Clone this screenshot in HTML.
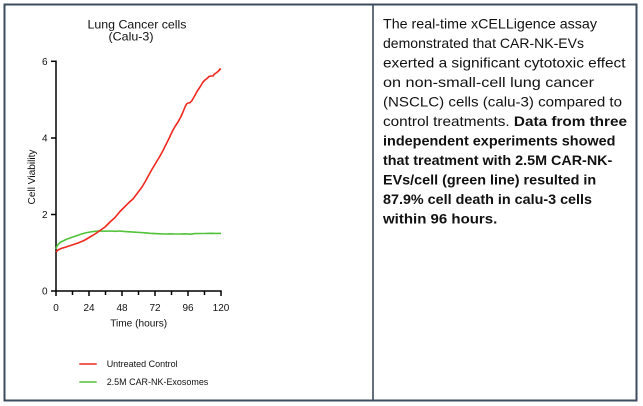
<!DOCTYPE html>
<html><head><meta charset="utf-8"><style>
html,body{margin:0;padding:0;background:#fff;width:643px;height:406px;overflow:hidden}
svg{display:block}
</style></head><body>
<svg width="643" height="406" viewBox="0 0 643 406" xmlns="http://www.w3.org/2000/svg" font-family="'Liberation Sans', Arial, sans-serif">
<rect x="0" y="0" width="643" height="406" fill="#fff"/>
<!-- outer border -->
<rect x="4.5" y="4.5" width="632" height="396" fill="none" stroke="#3c4b5d" stroke-width="2"/>
<line x1="373" y1="4" x2="373" y2="401" stroke="#3c4b5d" stroke-width="1.6"/>

<!-- chart title -->
<text x="137" y="28.3" font-size="12" text-anchor="middle" fill="#111" textLength="99" lengthAdjust="spacingAndGlyphs">Lung Cancer cells</text>
<text x="131" y="40.7" font-size="12" text-anchor="middle" fill="#111" textLength="45" lengthAdjust="spacingAndGlyphs">(Calu-3)</text>

<!-- axes -->
<g stroke="#000" stroke-width="1.5" fill="none">
<line x1="56" y1="60.5" x2="56" y2="291.7"/>
<line x1="55.3" y1="291" x2="221.7" y2="291"/>
<!-- y ticks -->
<line x1="51" y1="291" x2="56" y2="291"/>
<line x1="51" y1="214.5" x2="56" y2="214.5"/>
<line x1="51" y1="138" x2="56" y2="138"/>
<line x1="51" y1="61.3" x2="56" y2="61.3"/>
<!-- x ticks -->
<line x1="56" y1="291" x2="56" y2="296"/>
<line x1="72.5" y1="291" x2="72.5" y2="295"/>
<line x1="89" y1="291" x2="89" y2="296"/>
<line x1="105.5" y1="291" x2="105.5" y2="295"/>
<line x1="122" y1="291" x2="122" y2="296"/>
<line x1="138.5" y1="291" x2="138.5" y2="295"/>
<line x1="155" y1="291" x2="155" y2="296"/>
<line x1="171.5" y1="291" x2="171.5" y2="295"/>
<line x1="188" y1="291" x2="188" y2="296"/>
<line x1="204.5" y1="291" x2="204.5" y2="295"/>
<line x1="221" y1="291" x2="221" y2="296"/>
</g>

<!-- y tick labels -->
<g font-size="10" fill="#111" text-anchor="end">
<text x="47.5" y="294.6">0</text>
<text x="47.5" y="218">2</text>
<text x="47.5" y="141.6">4</text>
<text x="47.5" y="64.9">6</text>
</g>
<!-- x tick labels -->
<g font-size="10" fill="#111" text-anchor="middle">
<text x="56" y="311">0</text>
<text x="89" y="311">24</text>
<text x="122" y="311">48</text>
<text x="155" y="311">72</text>
<text x="188" y="311">96</text>
<text x="221" y="311">120</text>
</g>
<text x="138.7" y="326.7" font-size="10.5" text-anchor="middle" fill="#111" textLength="57" lengthAdjust="spacingAndGlyphs">Time (hours)</text>
<text transform="translate(35,177) rotate(-90)" font-size="10" text-anchor="middle" fill="#111" textLength="55" lengthAdjust="spacingAndGlyphs">Cell Viability</text>

<!-- series -->
<polyline fill="none" stroke="#52c23a" stroke-width="1.6" stroke-linejoin="round" points="56,249 57,246 58.5,244 60,242.5 63,241 66,239.5 70,238 75,236.3 80,234.5 85,233 90,232 95,231.3 100,231 105,231.2 110,231 115,231.3 120,231 125,231.6 130,231.8 135,232.2 140,232.5 145,232.8 150,233.3 155,233.6 160,233.8 165,234 170,233.8 175,234 180,234 185,233.8 190,234.2 195,233.6 200,233.5 205,233.5 210,233.3 215,233.4 221,233.4"/>
<polyline fill="none" stroke="#f0281e" stroke-width="1.6" stroke-linejoin="round" points="56,252 58,250 61,248.5 66,247 72,245 78,243 84,240.5 90,237 95,234 100,230.5 105,227 110,222 115,217.5 120,211.5 125,206.5 130,201.5 133,199 136,195 139,191 142,187 145,182 148,176.5 151,171 154,166 157,161 160,156 163,150.5 166,144.5 169,138.5 172,132 175,126.5 178,122 181,116.5 183,112 185,107 186.5,104 188,103 190,102.7 192,100.5 194,97 197,91.5 200,87 203,82 205,80 207,78.5 209,76.5 211,76 213,76 214,74.5 216,73 218,71.5 219,70.5 220,69 221,69.5"/>

<!-- legend -->
<line x1="79.3" y1="364" x2="96.7" y2="364" stroke="#f0281e" stroke-width="1.6"/>
<line x1="79.3" y1="382" x2="96.7" y2="382" stroke="#52c23a" stroke-width="1.6"/>
<text x="106.7" y="367.2" font-size="9" fill="#111" textLength="71" lengthAdjust="spacingAndGlyphs">Untreated Control</text>
<text x="106.7" y="385.2" font-size="9" fill="#111" textLength="101.6" lengthAdjust="spacingAndGlyphs">2.5M CAR-NK-Exosomes</text>

<!-- right text -->
<g font-size="14" fill="#111" lengthAdjust="spacingAndGlyphs">
<text x="383" y="28.5" textLength="214" lengthAdjust="spacingAndGlyphs">The real-time xCELLigence assay</text>
<text x="383" y="48" textLength="201" lengthAdjust="spacingAndGlyphs">demonstrated that CAR-NK-EVs</text>
<text x="383" y="67.5" textLength="242.5" lengthAdjust="spacingAndGlyphs">exerted a significant cytotoxic effect</text>
<text x="383" y="87" textLength="211" lengthAdjust="spacingAndGlyphs">on non-small-cell lung cancer</text>
<text x="383" y="106.5" textLength="239" lengthAdjust="spacingAndGlyphs">(NSCLC) cells (calu-3) compared to</text>
<text x="383" y="126" textLength="244" lengthAdjust="spacingAndGlyphs">control treatments. <tspan font-weight="bold">Data from three</tspan></text>
<text x="383" y="145.5" font-weight="bold" textLength="232.5" lengthAdjust="spacingAndGlyphs">independent experiments showed</text>
<text x="383" y="165" font-weight="bold" textLength="229.3" lengthAdjust="spacingAndGlyphs">that treatment with 2.5M CAR-NK-</text>
<text x="383" y="184.5" font-weight="bold" textLength="213.2" lengthAdjust="spacingAndGlyphs">EVs/cell (green line) resulted in</text>
<text x="383" y="204" font-weight="bold" textLength="209" lengthAdjust="spacingAndGlyphs">87.9% cell death in calu-3 cells</text>
<text x="383" y="223.5" font-weight="bold" textLength="114.3" lengthAdjust="spacingAndGlyphs">within 96 hours.</text>
</g>
</svg>
</body></html>
